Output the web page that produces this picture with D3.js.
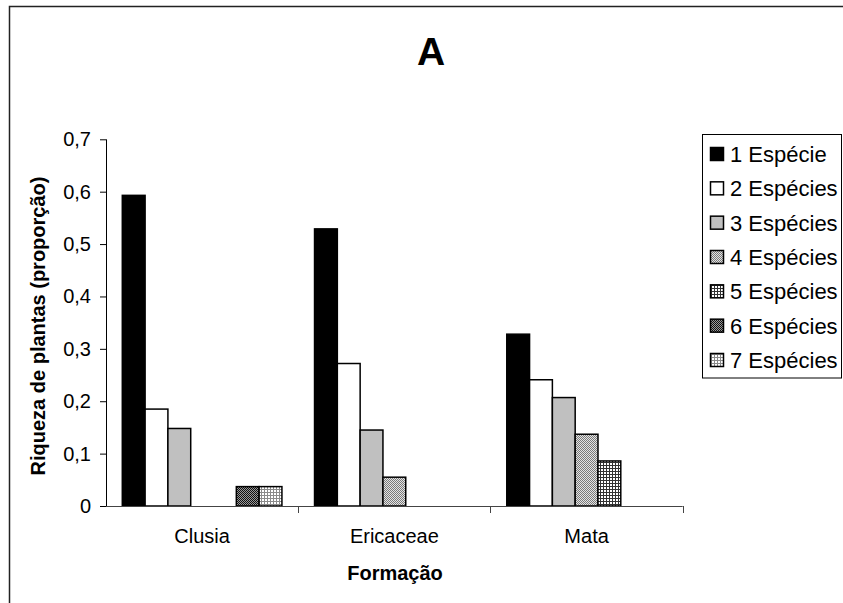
<!DOCTYPE html>
<html>
<head>
<meta charset="utf-8">
<script src="https://cdn.jsdelivr.net/npm/d3@7"></script>
<style>
  html, body { margin: 0; padding: 0; background: #fff; }
  svg { display: block; font-family: "Liberation Sans", Arial, sans-serif; }
</style>
</head>
<body>
<svg id="chart" width="843" height="603"></svg>
<script>
// Proportion of plant richness per formation, by number of species
const categories = ["Clusia", "Ericaceae", "Mata"];
const seriesNames = ["1 Espécie", "2 Espécies", "3 Espécies", "4 Espécies", "5 Espécies", "6 Espécies", "7 Espécies"];
const sp1 = [0.593, 0.529, 0.328];
const sp2 = [0.185, 0.272, 0.241];
const sp3 = [0.148, 0.145, 0.207];
const sp4 = [0, 0.055, 0.137];
const sp5 = [0, 0, 0.086];
const sp6 = [0.037, 0, 0];
const sp7 = [0.037, 0, 0];
const seriesValues = [sp1, sp2, sp3, sp4, sp5, sp6, sp7];
const yTicks = [0, 0.1, 0.2, 0.3, 0.4, 0.5, 0.6, 0.7];

const titleText = "A";
const xTitle = "Formação";
const yTitle = "Riqueza de plantas (proporção)";

const svg = d3.select("#chart");
const defs = svg.append("defs");

// Fill patterns for series 4-7
function pixelPattern(id, size, bg, cells) {
  const p = defs.append("pattern")
    .attr("id", id).attr("patternUnits", "userSpaceOnUse")
    .attr("width", size).attr("height", size);
  p.append("rect").attr("width", size).attr("height", size).attr("fill", bg);
  cells.forEach(c => p.append("rect")
    .attr("x", c[0]).attr("y", c[1]).attr("width", c[2]).attr("height", c[3])
    .attr("fill", c[4]));
}
pixelPattern("pat4", 2, "#e4e4e4", [[0, 0, 1, 1, "#7a7a7a"], [1, 1, 1, 1, "#7a7a7a"]]);
pixelPattern("pat5", 3, "#ffffff", [[0, 0, 3, 1, "#333"], [0, 0, 1, 3, "#333"]]);
pixelPattern("pat6", 2, "#9a9a9a", [[0, 0, 1, 1, "#111"], [1, 1, 1, 1, "#111"]]);
pixelPattern("pat7", 3, "#ffffff", [[0, 0, 3, 1, "#8a8a8a"], [0, 0, 1, 3, "#8a8a8a"]]);

const fills = ["#000000", "#ffffff", "#c0c0c0", "url(#pat4)", "url(#pat5)", "url(#pat6)", "url(#pat7)"];

// Outer chart frame (extends past the right and bottom edges)
svg.append("path")
  .attr("d", "M9.5,620 V6.5 H860")
  .attr("fill", "none").attr("stroke", "#222").attr("stroke-width", 1.5);

const plot = { left: 106, right: 682.7, top: 139.3, bottom: 506 };

const x0 = d3.scaleBand().domain(categories).range([plot.left, plot.right]).paddingInner(0).paddingOuter(0);
const x1 = d3.scaleBand().domain(d3.range(seriesNames.length))
  .range([16.3, x0.bandwidth() - 16.3]).padding(0);
const y = d3.scaleLinear().domain([0, 0.7]).range([plot.bottom, plot.top]);

const fmt = d3.formatLocale({ decimal: ",", thousands: ".", grouping: [3], currency: ["", ""] }).format("~g");

// Y axis
const yAxis = svg.append("g").attr("transform", `translate(${plot.left},0)`)
  .call(d3.axisLeft(y).tickValues(yTicks).tickFormat(v => fmt(+v.toFixed(1))).tickSize(6).tickPadding(9));
yAxis.select(".domain").attr("stroke", "#000").attr("stroke-width", 1).attr("d", `M0.5,${plot.top}V${plot.bottom}`);
yAxis.selectAll(".tick line").attr("stroke", "#000");
yAxis.selectAll(".tick text").attr("font-size", 20).attr("fill", "#000")
  .attr("font-family", "Liberation Sans, Arial, sans-serif");

// Bars
categories.forEach((cat, ci) => {
  seriesValues.forEach((vals, si) => {
    const v = vals[ci];
    if (v <= 0) return;
    svg.append("rect")
      .attr("x", x0(cat) + x1(si))
      .attr("y", y(v))
      .attr("width", x1.bandwidth())
      .attr("height", y(0) - y(v))
      .attr("fill", fills[si])
      .attr("stroke", "#000")
      .attr("stroke-width", 1.5);
  });
});

// X axis with ticks at category boundaries
const xAxisG = svg.append("g");
xAxisG.append("line")
  .attr("x1", plot.left).attr("x2", plot.right)
  .attr("y1", plot.bottom + 0.5).attr("y2", plot.bottom + 0.5)
  .attr("stroke", "#444").attr("stroke-width", 1);
const boundaries = categories.map(c => x0(c)).concat([plot.right]);
xAxisG.selectAll("line.tick").data(boundaries.slice(1)).join("line")
  .attr("class", "tick")
  .attr("x1", d => Math.round(d) + 0.5).attr("x2", d => Math.round(d) + 0.5)
  .attr("y1", plot.bottom).attr("y2", plot.bottom + 7)
  .attr("stroke", "#444");
xAxisG.selectAll("text").data(categories).join("text")
  .attr("x", d => x0(d) + x0.bandwidth() / 2)
  .attr("y", 543)
  .attr("text-anchor", "middle")
  .attr("font-size", 20)
  .text(d => d);

// Titles
svg.append("text").attr("x", 431).attr("y", 65).attr("text-anchor", "middle")
  .attr("font-size", 39).attr("font-weight", "bold").text(titleText);
svg.append("text").attr("x", 395).attr("y", 580).attr("text-anchor", "middle")
  .attr("font-size", 20).attr("font-weight", "bold").text(xTitle);
svg.append("text").attr("transform", "translate(45,326) rotate(-90)").attr("text-anchor", "middle")
  .attr("font-size", 20).attr("font-weight", "bold").text(yTitle);

// Legend
const legend = svg.append("g");
legend.append("rect").attr("x", 702.5).attr("y", 134.5).attr("width", 139).attr("height", 243.5)
  .attr("fill", "#fff").attr("stroke", "#000").attr("stroke-width", 1);
const ly = d3.scalePoint().domain(d3.range(seriesNames.length)).range([154, 360]);
seriesNames.forEach((name, i) => {
  legend.append("rect")
    .attr("x", 710.5).attr("y", ly(i) - 6.5).attr("width", 13).attr("height", 13)
    .attr("fill", fills[i]).attr("stroke", "#000").attr("stroke-width", 1.5);
  legend.append("text")
    .attr("x", 730).attr("y", ly(i) + 8)
    .attr("font-size", 22)
    .text(name);
});
</script>
</body>
</html>
